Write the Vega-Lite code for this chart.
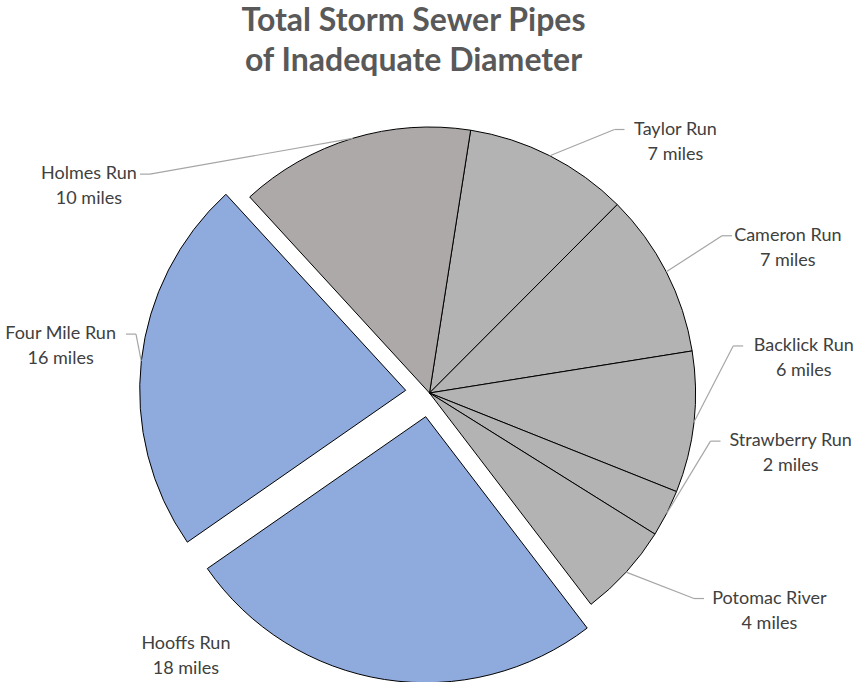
{
  "$schema": "https://vega.github.io/schema/vega-lite/v6.json",
  "width": 859,
  "height": 578,
  "autosize": "none",
  "padding": {"top": 104, "left": 0, "right": 0, "bottom": 0},
  "background": "white",
  "config": {"view": {"stroke": null}},
  "title": {
    "text": ["Total Storm Sewer Pipes", "of Inadequate Diameter"],
    "font": "Lato",
    "fontSize": 32,
    "fontWeight": "bold",
    "color": "#595959",
    "lineHeight": 40,
    "anchor": "middle",
    "offset": 26,
    "dx": -16
  },
  "data": {
    "values": [
      {"river": "Taylor Run", "miles": 7},
      {"river": "Cameron Run", "miles": 7},
      {"river": "Backlick Run", "miles": 6},
      {"river": "Strawberry Run", "miles": 2},
      {"river": "Potomac River", "miles": 4},
      {"river": "Hooffs Run", "miles": 18},
      {"river": "Four Mile Run", "miles": 16},
      {"river": "Holmes Run", "miles": 10}
    ]
  },
  "transform": [
    {"stack": "miles", "groupby": [], "as": ["s0", "s1"]},
    {"calculate": "(datum.s0 + datum.s1) / 2", "as": "mid"},
    {"calculate": "[datum.river, datum.miles + ' miles']", "as": "lab"},
    {"calculate": "0.1553 + datum.mid / 70 * 2 * PI", "as": "a"},
    {"calculate": "(datum.river == 'Hooffs Run' || datum.river == 'Four Mile Run' ? 24 : 0) + 266", "as": "pr"},
    {"calculate": "datum.pr * sin(datum.a)", "as": "px"},
    {"calculate": "datum.pr * cos(datum.a)", "as": "py"},
    {"calculate": "{'Taylor Run': 0.7723, 'Cameron Run': 1.1833, 'Backlick Run': 1.4748, 'Strawberry Run': 1.7331, 'Potomac River': 2.138, 'Hooffs Run': 3.890, 'Four Mile Run': 4.8415, 'Holmes Run': 5.2604}[datum.river]", "as": "la"},
    {"calculate": "{'Taylor Run': 352.5, 'Cameron Run': 387, 'Backlick Run': 376, 'Strawberry Run': 366, 'Potomac River': 403, 'Hooffs Run': 358, 'Four Mile Run': 372, 'Holmes Run': 399}[datum.river]", "as": "lr"},
    {"calculate": "datum.lr * sin(datum.la)", "as": "ax"},
    {"calculate": "datum.lr * cos(datum.la) + 11", "as": "ay1"},
    {"calculate": "datum.ax > datum.px ? 1 : -1", "as": "s"},
    {"calculate": "datum.ax - datum.s * (length(datum.river) * 4.8 + 3)", "as": "tx"},
    {"calculate": "datum.tx - datum.s * 10", "as": "bx"}
  ],
  "resolve": {"scale": {"theta": "independent"}},
  "layer": [
    {
      "transform": [{"filter": "datum.river != 'Hooffs Run' && datum.river != 'Four Mile Run'"}],
      "mark": {"type": "arc", "outerRadius": 266, "stroke": "#000000", "strokeWidth": 1},
      "encoding": {
        "theta": {"field": "s0", "type": "quantitative", "stack": null, "scale": {"type": "linear", "domain": [0, 70], "range": [0.1553, 6.4385], "zero": false, "nice": false}},
        "theta2": {"field": "s1"},
        "color": {"field": "river", "type": "nominal", "legend": null,
          "scale": {"domain": ["Taylor Run", "Cameron Run", "Backlick Run", "Strawberry Run", "Potomac River", "Hooffs Run", "Four Mile Run", "Holmes Run"],
                    "range": ["#B3B3B3", "#B3B3B3", "#B3B3B3", "#B3B3B3", "#B3B3B3", "#8FAADC", "#8FAADC", "#ADA9A8"]}}
      }
    },
    {
      "transform": [{"filter": "datum.river == 'Hooffs Run'"}],
      "mark": {"type": "arc", "outerRadius": 266, "stroke": "#000000", "strokeWidth": 1, "xOffset": -3.8, "yOffset": 23.7},
      "encoding": {
        "theta": {"field": "s0", "type": "quantitative", "stack": null, "scale": {"type": "linear", "domain": [0, 70], "range": [0.1553, 6.4385], "zero": false, "nice": false}},
        "theta2": {"field": "s1"},
        "color": {"field": "river", "type": "nominal", "legend": null}
      }
    },
    {
      "transform": [{"filter": "datum.river == 'Four Mile Run'"}],
      "mark": {"type": "arc", "outerRadius": 266, "stroke": "#000000", "strokeWidth": 1, "xOffset": -23.8, "yOffset": -2.7},
      "encoding": {
        "theta": {"field": "s0", "type": "quantitative", "stack": null, "scale": {"type": "linear", "domain": [0, 70], "range": [0.1553, 6.4385], "zero": false, "nice": false}},
        "theta2": {"field": "s1"},
        "color": {"field": "river", "type": "nominal", "legend": null}
      }
    },
    {
      "transform": [{"filter": "datum.river != 'Hooffs Run'"}],
      "mark": {"type": "rule", "color": "#A6A6A6", "strokeWidth": 1.2},
      "encoding": {
        "x": {"field": "px", "type": "quantitative", "axis": null, "scale": {"domain": [-429.5, 429.5], "zero": false, "nice": false}},
        "y": {"field": "py", "type": "quantitative", "axis": null, "scale": {"domain": [-289, 289], "zero": false, "nice": false}},
        "x2": {"field": "bx"},
        "y2": {"field": "ay1"}
      }
    },
    {
      "transform": [{"filter": "datum.river != 'Hooffs Run'"}],
      "mark": {"type": "rule", "color": "#A6A6A6", "strokeWidth": 1.2},
      "encoding": {
        "x": {"field": "bx", "type": "quantitative"},
        "y": {"field": "ay1", "type": "quantitative"},
        "x2": {"field": "tx"},
        "y2": {"field": "ay1"}
      }
    },
    {
      "mark": {"type": "text", "font": "Lato", "fontSize": 18, "color": "#404040", "align": "center", "baseline": "middle", "lineHeight": 25},
      "encoding": {
        "x": {"field": "ax", "type": "quantitative"},
        "y": {"field": "ay1", "type": "quantitative"},
        "text": {"field": "lab"}
      }
    }
  ]
}
